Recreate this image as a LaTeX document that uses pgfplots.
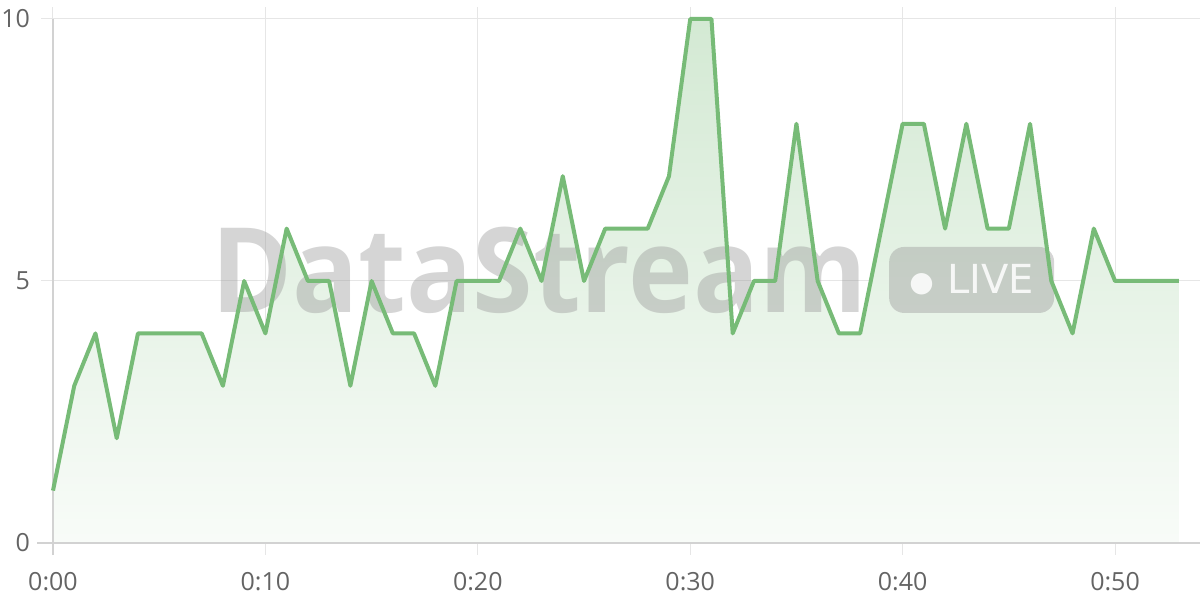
\documentclass[border=0pt]{standalone}
\usepackage{pgfplots}
\pgfplotsset{compat=1.18}
\usepackage{fontspec}
\setmainfont{Open Sans}
\newfontfamily\djv{DejaVu Sans}
\definecolor{linec}{RGB}{119,187,119}
\definecolor{gridc}{RGB}{230,230,230}
\definecolor{axc}{RGB}{210,210,210}
\definecolor{labc}{RGB}{100,100,100}
\definecolor{wmc}{RGB}{150,150,150}
\begin{document}
\begin{tikzpicture}
\begin{axis}[set layers, at={(0,0)}, anchor=south west, scale only axis,
  width=573.5pt, height=262pt, xmin=0, xmax=54, ymin=0, ymax=10,
  xtick={0,10,20,30,40,50}, xticklabels={0:00,0:10,0:20,0:30,0:40,0:50},
  ytick={0,5,10},
  grid=major, major grid style={color=gridc, line width=0.5pt},
  axis line style={draw=none},
  tick align=outside, major tick length=6pt,
  tick style={color=gridc, line width=0.5pt},
  ticklabel style={font=\fontsize{12.5}{14}\selectfont, text=labc},
  xticklabel style={yshift=-5pt},
  yticklabel style={xshift=-2pt},
  /pgf/number format/assume math mode=true, clip=false]
\addplot[draw=none, top color=linec!32!white, bottom color=linec!5!white, on layer=pre main] table {
x y
0 1
1 3
2 4
3 2
4 4
5 4
6 4
7 4
8 3
9 5
10 4
11 6
12 5
13 5
14 3
15 5
16 4
17 4
18 3
19 5
20 5
21 5
22 6
23 5
24 7
25 5
26 6
27 6
28 6
29 7
30 10
31 10
32 4
33 5
34 5
35 8
36 5
37 4
38 4
39 6
40 8
41 8
42 6
43 8
44 6
45 6
46 8
47 5
48 4
49 6
50 5
51 5
52 5
53 5
} \closedcycle;
\addplot[color=linec, line width=2pt, line join=round, mark=none, on layer=axis foreground] table {
x y
0 1
1 3
2 4
3 2
4 4
5 4
6 4
7 4
8 3
9 5
10 4
11 6
12 5
13 5
14 3
15 5
16 4
17 4
18 3
19 5
20 5
21 5
22 6
23 5
24 7
25 5
26 6
27 6
28 6
29 7
30 10
31 10
32 4
33 5
34 5
35 8
36 5
37 4
38 4
39 6
40 8
41 8
42 6
43 8
44 6
45 6
46 8
47 5
48 4
49 6
50 5
51 5
52 5
53 5
};
\draw[axc, line width=0.75pt] (axis cs:0,-0.23) -- (axis cs:0,10);
\draw[axc, line width=0.75pt] (axis cs:-0.75,0) -- (axis cs:54,0);
\node[anchor=base, xscale=0.93, text=wmc, text opacity=0.4, font=\fontsize{59}{60}\selectfont\bfseries] at (axis cs:22.9,4.39) {DataStream};
\node[fill=wmc, fill opacity=0.4, text=white, text opacity=0.85, rounded corners=7.5pt, minimum width=82.5pt, minimum height=33pt, inner sep=0pt, font=\djv\fontsize{20}{20}\selectfont] at (axis cs:43.25,5.02) {\raisebox{1pt}{\scalebox{0.7}{●}}\,\,LIVE};
\end{axis}
\pgfresetboundingbox
\path (-26.5pt,-28.5pt) rectangle (573.5pt,271.5pt);
\end{tikzpicture}
\end{document}
